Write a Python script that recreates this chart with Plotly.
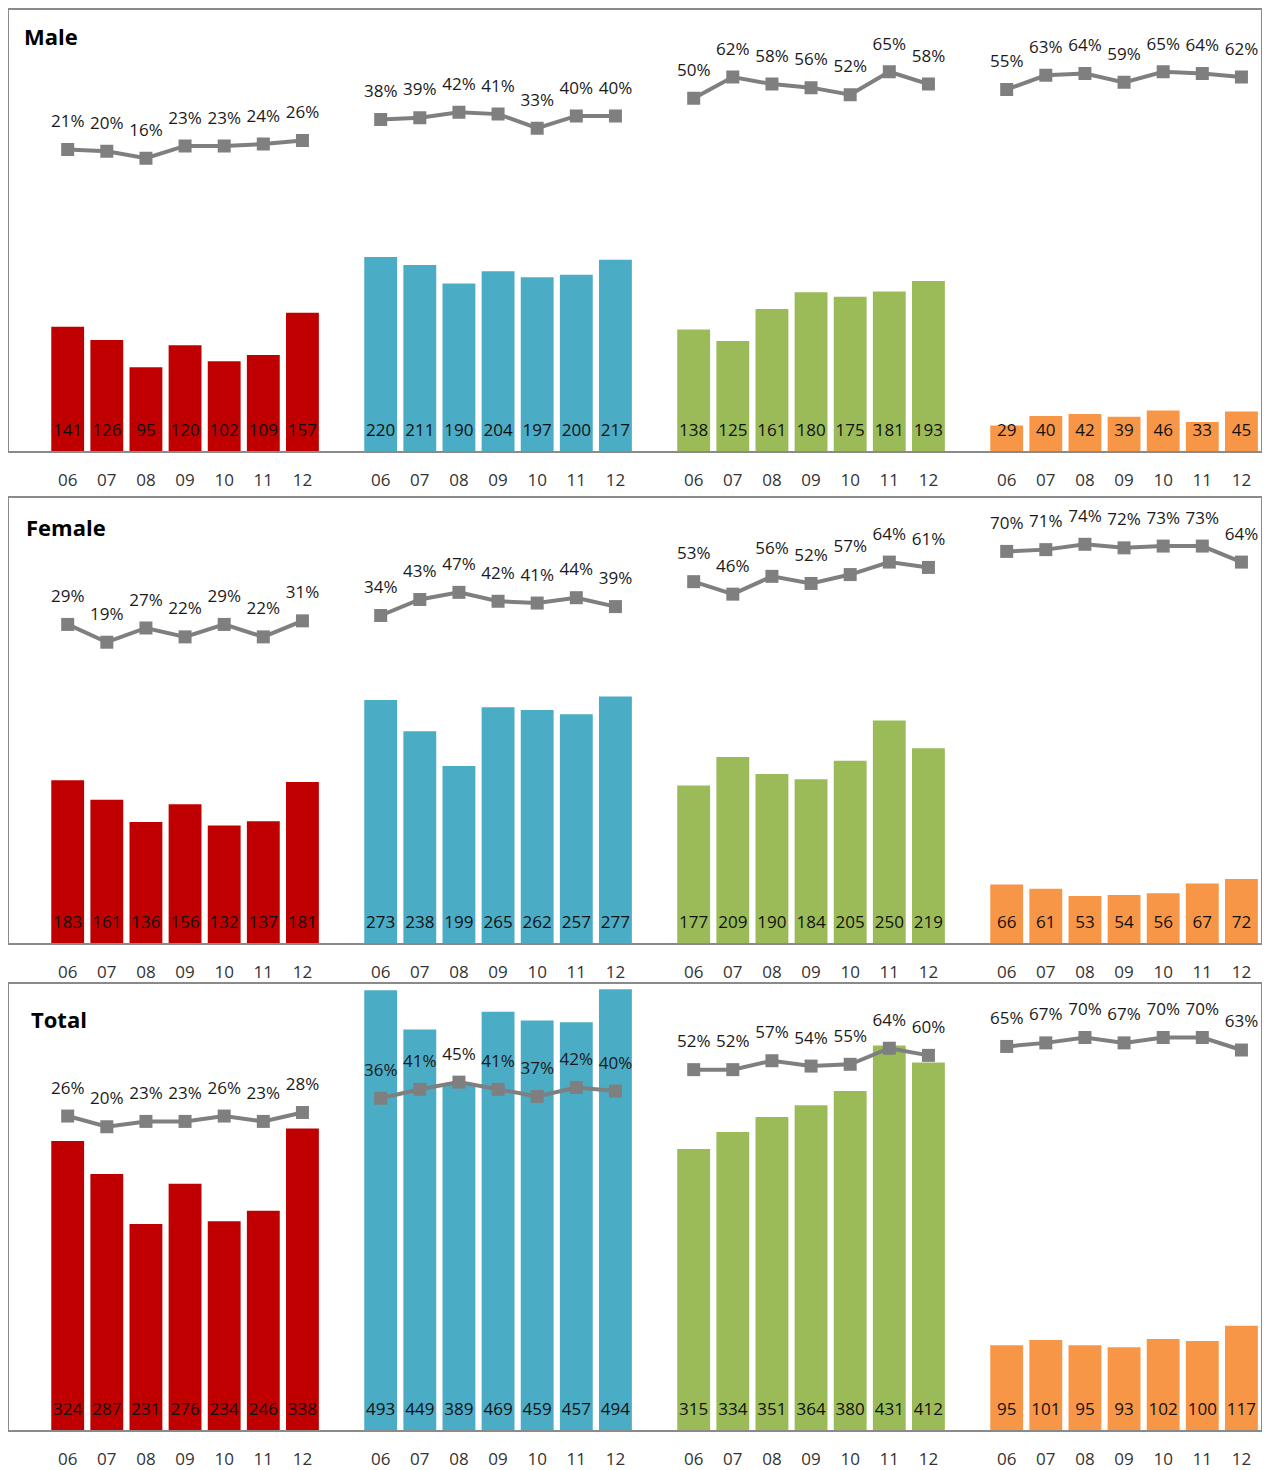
import plotly.graph_objects as go

years = ["06", "07", "08", "09", "10", "11", "12"]
panels = ["Male", "Female", "Total"]
colors = ["#C00000", "#4BACC6", "#9BBB59", "#F79646"]

male_counts = [
    [141, 126, 95, 120, 102, 109, 157],
    [220, 211, 190, 204, 197, 200, 217],
    [138, 125, 161, 180, 175, 181, 193],
    [29, 40, 42, 39, 46, 33, 45],
]
male_pct = [
    [21, 20, 16, 23, 23, 24, 26],
    [38, 39, 42, 41, 33, 40, 40],
    [50, 62, 58, 56, 52, 65, 58],
    [55, 63, 64, 59, 65, 64, 62],
]
female_counts = [
    [183, 161, 136, 156, 132, 137, 181],
    [273, 238, 199, 265, 262, 257, 277],
    [177, 209, 190, 184, 205, 250, 219],
    [66, 61, 53, 54, 56, 67, 72],
]
female_pct = [
    [29, 19, 27, 22, 29, 22, 31],
    [34, 43, 47, 42, 41, 44, 39],
    [53, 46, 56, 52, 57, 64, 61],
    [70, 71, 74, 72, 73, 73, 64],
]
total_counts = [
    [324, 287, 231, 276, 234, 246, 338],
    [493, 449, 389, 469, 459, 457, 494],
    [315, 334, 351, 364, 380, 431, 412],
    [95, 101, 95, 93, 102, 100, 117],
]
total_pct = [
    [26, 20, 23, 23, 26, 23, 28],
    [36, 41, 45, 41, 37, 42, 40],
    [52, 52, 57, 54, 55, 64, 60],
    [65, 67, 70, 67, 70, 70, 63],
]

counts_all = [male_counts, female_counts, total_counts]
pct_all = [male_pct, female_pct, total_pct]

# page body has an 8px margin; figure sized to fit the window
OX, OY = 8, 8
W, H = 1262, 1462
FONT = "Open Sans"
BORDER = "#8a8a8a"
LINEC = "#7f7f7f"


def px(v, off, lo=1):
    return max(v - off, lo)


# panel boxes in page pixels (top, bottom)
boxes = [(5, 452), (499, 946), (987, 1435)]
title_pos = [(22, 35), (24, 528), (29, 1022)]
x_left, x_right = px(6, OX), 1261 - OX

fig = go.Figure()
layout = {}

for p in range(3):
    xa = f"x{p+1}" if p else "x"
    ya = f"y{p+1}" if p else "y"
    ya2 = f"y{p+4}"
    counts = counts_all[p]
    pcts = pct_all[p]
    for g in range(4):
        xs = [g * 8 + 1 + j for j in range(len(years))]
        fig.add_trace(go.Bar(
            x=xs, y=counts[g], width=0.84,
            marker=dict(color=colors[g], line=dict(width=0)),
            xaxis=xa, yaxis=ya, hoverinfo="skip", showlegend=False,
        ))
        fig.add_trace(go.Scatter(
            x=xs, y=[22] * len(xs), mode="text",
            text=[str(v) for v in counts[g]], textposition="middle center",
            textfont=dict(family=FONT, size=17, color="#111111"),
            xaxis=xa, yaxis=ya, hoverinfo="skip", showlegend=False,
        ))
    for g in range(4):
        xs = [g * 8 + 1 + j for j in range(len(years))]
        fig.add_trace(go.Scatter(
            x=xs, y=[v / 100 for v in pcts[g]], mode="lines+markers",
            line=dict(color=LINEC, width=4),
            marker=dict(symbol="square", size=13, color=LINEC),
            xaxis=xa, yaxis=ya2, hoverinfo="skip", showlegend=False,
        ))
        fig.add_trace(go.Scatter(
            x=xs, y=[v / 100 + 0.15 for v in pcts[g]], mode="text",
            text=[f"{v}%" for v in pcts[g]], textposition="middle center",
            textfont=dict(family=FONT, size=17, color="#1a1a1a"),
            xaxis=xa, yaxis=ya2, hoverinfo="skip", showlegend=False,
        ))

    top, bot = boxes[p]
    top_f, bot_f = px(top, OY), bot - OY
    ydom = [1 - bot_f / H, 1 - top_f / H]
    tickvals = [g * 8 + 1 + j for g in range(4) for j in range(len(years))]
    ticktext = [y for g in range(4) for y in years]
    xkey = "xaxis" + (str(p + 1) if p else "")
    ykey = "yaxis" + (str(p + 1) if p else "")
    layout[xkey] = dict(
        domain=[x_left / W, x_right / W], anchor=ya, range=[-0.5, 31.5],
        tickmode="array", tickvals=tickvals, ticktext=ticktext,
        showline=True, linecolor=BORDER, linewidth=2, mirror=True,
        showgrid=False, zeroline=False, ticks="", ticklabelstandoff=12,
        tickfont=dict(family=FONT, size=17, color="#333333"), fixedrange=True,
    )
    layout[ykey] = dict(
        domain=ydom, anchor=xa, range=[0, 500],
        showline=True, linecolor=BORDER, linewidth=2, mirror=True,
        showgrid=False, zeroline=False, showticklabels=False, ticks="",
        fixedrange=True,
    )
    layout[f"yaxis{p+4}"] = dict(
        overlaying=ya, anchor=xa, range=[-1.5, 1.0], visible=False,
        showgrid=False, zeroline=False, fixedrange=True,
    )

annotations = []
for p in range(3):
    tx, ty = title_pos[p]
    annotations.append(dict(
        text=f"<b>{panels[p]}</b>", x=(tx - OX) / W, y=1 - (ty - OY) / H,
        xref="paper", yref="paper",
        xanchor="left", yanchor="middle", showarrow=False,
        font=dict(family=FONT, size=22, color="#000000"),
    ))

fig.update_layout(
    width=W, height=H, margin=dict(l=0, r=0, t=0, b=0),
    paper_bgcolor="white", plot_bgcolor="white", barmode="overlay",
    annotations=annotations, showlegend=False, **layout,
)

fig.write_html("out.html")
